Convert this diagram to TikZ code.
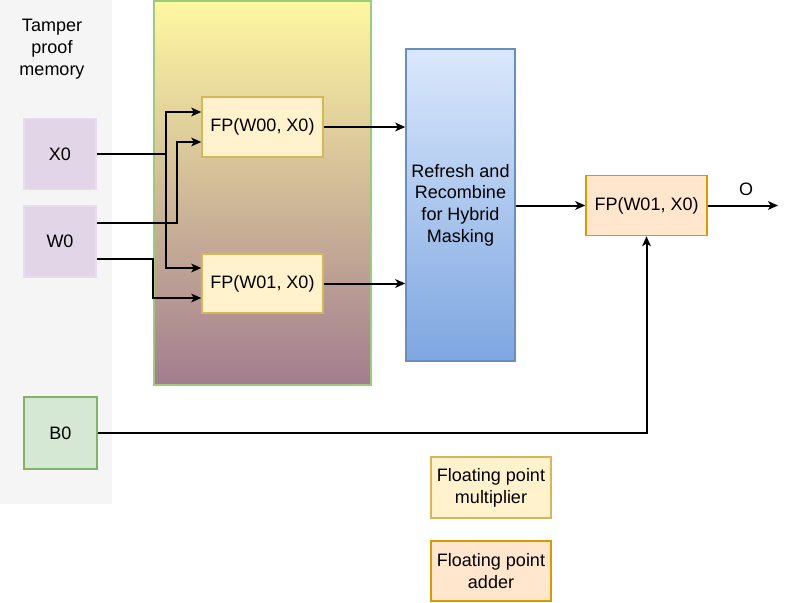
\documentclass[tikz,border=0pt]{standalone}
\usepackage{fontspec}
\setmainfont{Liberation Sans}
\usetikzlibrary{arrows.meta,calc}
\definecolor{memgray}{HTML}{F5F5F5}
\definecolor{purfill}{HTML}{E1D5E7}
\definecolor{grnfill}{HTML}{D5E8D4}
\definecolor{grnline}{HTML}{82B366}
\definecolor{panelline}{HTML}{9CCB7E}
\definecolor{paneltop}{HTML}{FFF7A1}
\definecolor{panelbot}{HTML}{A27D8F}
\definecolor{multfill}{HTML}{FFF2CC}
\definecolor{multline}{HTML}{D6B656}
\definecolor{addfill}{HTML}{FFE6CC}
\definecolor{addline}{HTML}{D79B00}
\definecolor{bluetop}{HTML}{DAE8FC}
\definecolor{bluebot}{HTML}{7EA6E0}
\definecolor{blueline}{HTML}{6C8EBF}
\tikzset{
  every node/.style={font=\fontsize{13.5pt}{16.3pt}\selectfont, inner sep=0pt, align=center},
  box/.style={rectangle, line width=1.1pt},
  membox/.style={box, fill=purfill, draw=purfill!80!white, minimum width=54pt, minimum height=53.5pt},
  multbox/.style={box, fill=multfill, draw=multline, minimum width=90.75pt, minimum height=45pt},
  addbox/.style={box, fill=addfill, draw=addline, minimum width=90.75pt, minimum height=45pt},
  arr/.style={line width=1.5pt, -{Stealth[length=7.5pt,width=6.5pt,inset=2pt]}},
  wire/.style={line width=1.5pt},
}
\begin{document}
\begin{tikzpicture}[x=0.75pt,y=-0.75pt]
\useasboundingbox (0,0) rectangle (787,602);
% memory panel
\node[rectangle, fill=memgray, minimum width=84pt, minimum height=378pt, anchor=north west] (mem) at (0,0) {};
\node (memlbl) at (52,49) {Tamper\\proof\\memory};
\node[membox] (x0) at (60,154) {X0};
\node[membox] (w0) at (60,241.5) {W0};
\node[box, fill=grnfill, draw=grnline, minimum width=54.75pt, minimum height=54pt] (b0) at (60.5,433) {B0};
% gradient panel
\node[box, draw=panelline, top color=paneltop, bottom color=panelbot, minimum width=162.75pt, minimum height=288pt] (panel) at (262.5,193) {};
\node[multbox] (fp00) at (262.5,127) {FP(W00, X0)};
\node[multbox, minimum height=44.25pt] (fp01) at (262.5,283.5) {FP(W01, X0)};
% refresh
\node[box, draw=blueline, top color=bluetop, bottom color=bluebot, minimum width=81.75pt, minimum height=234pt] (ref) at (460.5,205) {Refresh and\\Recombine\\for Hybrid\\Masking};
% adder
\node[addbox] (add) at (646.5,205.5) {FP(W01, X0)};
\node (olbl) at (746,189) {O};
\coordinate (out) at (778,205.5);
% legends
\node[multbox, minimum width=90pt, minimum height=45.75pt] (leg1) at (491,487.5) {Floating point\\multiplier};
\node[addbox, minimum width=90pt, minimum height=45pt] (leg2) at (491,571) {Floating point\\adder};
% connectors
\coordinate (j1) at (166,154);
\draw[wire] (x0.east) -- (j1);
\draw[arr] (j1) |- ($(fp00.west)+(0,-15)$);
\draw[arr] (j1) |- ($(fp01.west)+(0,-15.5)$);
\draw[arr] ($(w0.east)+(0,-18.5)$) -| ($(fp00.west)+(-24,15)$) -- ($(fp00.west)+(0,15)$);
\draw[arr] ($(w0.east)+(0,17.5)$) -| ($(fp01.west)+(-48,14.5)$) -- ($(fp01.west)+(0,14.5)$);
\draw[arr] (fp00.east) -- (fp00.east -| ref.west);
\draw[arr] (fp01.east) -- (fp01.east -| ref.west);
\draw[arr] (ref.east |- add.west) -- (add.west);
\draw[arr] (b0.east) -| (add.south);
\draw[arr] (add.east) -- (out);
\end{tikzpicture}
\end{document}
